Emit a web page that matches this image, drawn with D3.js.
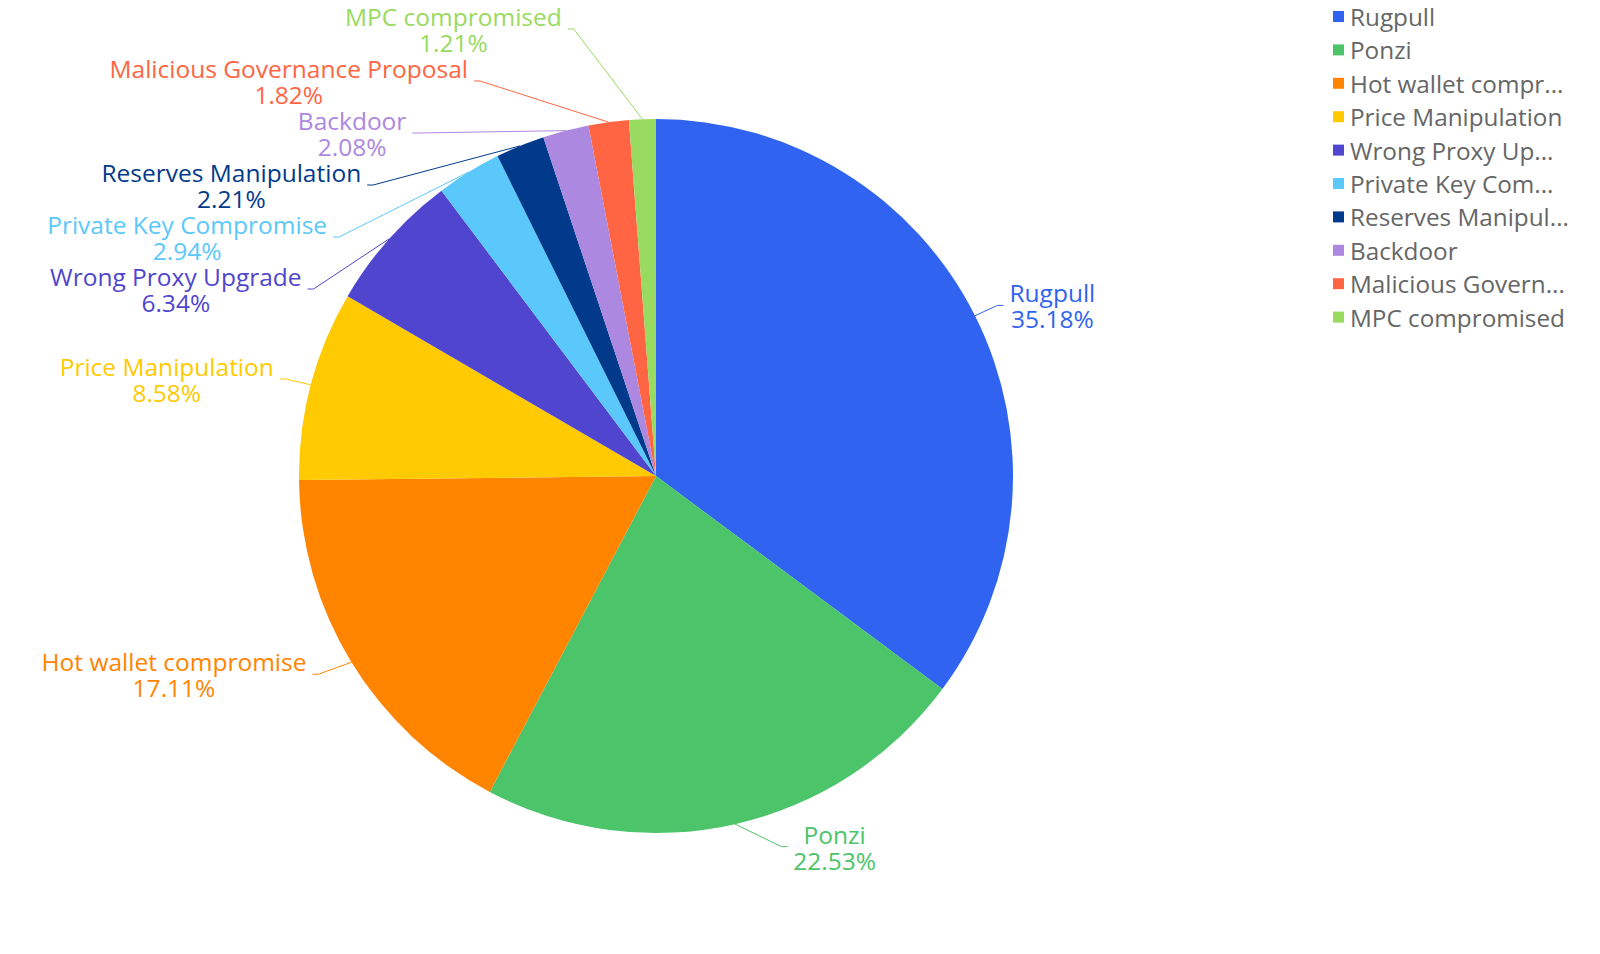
<!DOCTYPE html>
<html><head><meta charset="utf-8">
<script src="https://cdn.jsdelivr.net/npm/d3@7"></script>
<style>html,body{margin:0;padding:0;background:#fff;} svg{display:block;font-family:"Open Sans",sans-serif;}</style>
</head><body><svg id="chart" width="1600" height="954"></svg>
<script>
const categories = ["Rugpull","Ponzi","Hot wallet compromise","Price Manipulation","Wrong Proxy Upgrade","Private Key Compromise","Reserves Manipulation","Backdoor","Malicious Governance Proposal","MPC compromised"];
const percentages = [35.18,22.53,17.11,8.58,6.34,2.94,2.21,2.08,1.82,1.21];
const legendLabels = ["Rugpull","Ponzi","Hot wallet compr...","Price Manipulation","Wrong Proxy Up...","Private Key Com...","Reserves Manipul...","Backdoor","Malicious Govern...","MPC compromised"];
const colors = ["#3064F0","#4CC46A","#FF8400","#FFCA00","#5045CE","#5AC8FA","#013A8B","#AD88E0","#FF6542","#99DA60"];

const W=1600,H=954, cx=656, cy=476, R=357, L1=23, L2=6, GAP=6, BLOCK=52, TOP=3;
const svg=d3.select("#chart");
const data = categories.map((c,i)=>({name:c,value:percentages[i],color:colors[i],legend:legendLabels[i]}));
const pie=d3.pie().sort(null).value(d=>d.value).startAngle(0).endAngle(2*Math.PI);
const arcs=pie(data);
const arc=d3.arc().innerRadius(0).outerRadius(R);
const g=svg.append("g").attr("transform",`translate(${cx},${cy})`);
g.selectAll("path.slice").data(arcs).join("path").attr("class","slice").attr("d",arc).attr("fill",d=>d.data.color);

const a=R+L1;
const items=arcs.map(d=>{
  const m=(d.startAngle+d.endAngle)/2;
  const s=Math.sin(m), c=-Math.cos(m);
  return {d, dir:s<0?-1:1, ax:s*R, ay:c*R, ideal:c*a, y:c*a};
});
function resolve(list){
  if(!list.length) return;
  list.sort((p,q)=>p.ideal-q.ideal);
  const groups=list.map(it=>({items:[it]}));
  const place=grp=>{
    const n=grp.items.length;
    const mean=d3.mean(grp.items,it=>it.ideal);
    let first=mean-(n-1)*BLOCK/2;
    const minF=-cy+TOP+BLOCK/2, maxF=(H-cy)-BLOCK/2-(n-1)*BLOCK;
    grp.first=Math.max(minF,Math.min(maxF,first));
  };
  groups.forEach(place);
  let changed=true;
  while(changed){
    changed=false;
    for(let i=1;i<groups.length;i++){
      const p=groups[i-1], q=groups[i];
      const pBottom=p.first+(p.items.length-1)*BLOCK+BLOCK/2;
      const qTop=q.first-BLOCK/2;
      if(pBottom>qTop+0.01){p.items=p.items.concat(q.items);groups.splice(i,1);place(p);changed=true;break;}
    }
  }
  groups.forEach(gr=>gr.items.forEach((it,k)=>it.y=gr.first+k*BLOCK));
  const Hs=d3.max(list,it=>Math.abs(it.y)+BLOCK/2);
  const Rl=Math.max((a*a+Hs*Hs)/(2*a),a);
  list.forEach(it=>{
    const dx=Math.sqrt(Math.max(0,Rl*Rl-it.y*it.y))-(Rl-a);
    it.bx=it.dir*dx; it.ex=it.bx+it.dir*L2;
  });
}
resolve(items.filter(it=>it.dir<0));
resolve(items.filter(it=>it.dir>0));

const lab=g.append("g");
items.forEach(it=>{
  const col=it.d.data.color;
  lab.append("path").attr("d",d3.line()([[it.ax,it.ay],[it.bx,it.y],[it.ex,it.y]]))
    .attr("fill","none").attr("stroke",col).attr("stroke-width",1);
  const t=lab.append("text").attr("fill",col).style("font-size","24.5px")
    .attr("text-anchor","middle").attr("dominant-baseline","central");
  const s1=t.append("tspan").text(it.d.data.name);
  const s2=t.append("tspan").text(it.d.data.value.toFixed(2)+"%");
  const w=Math.max(s1.node().getComputedTextLength(),s2.node().getComputedTextLength());
  const mx=it.dir<0? it.ex-GAP-w/2 : it.ex+GAP+w/2;
  s1.attr("x",mx).attr("y",it.y-13);
  s2.attr("x",mx).attr("y",it.y+13);
});

const leg=svg.append("g").attr("transform","translate(1333,16.5)");
const li=leg.selectAll("g").data(data).join("g").attr("transform",(d,i)=>`translate(0,${i*33.4})`);
li.append("rect").attr("x",0).attr("y",-5.5).attr("width",11).attr("height",11).attr("fill",d=>d.color);
li.append("text").attr("x",17).attr("y",0).attr("dominant-baseline","central").attr("fill","#666").style("font-size","24.3px").text(d=>d.legend);
</script></body></html>
